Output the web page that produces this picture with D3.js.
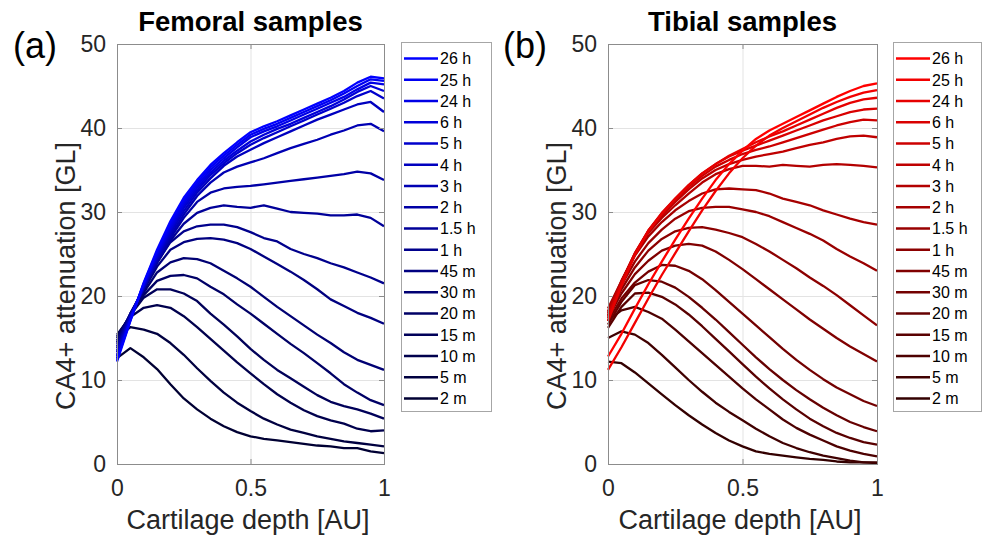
<!DOCTYPE html>
<html>
<head>
<meta charset="utf-8">
<script src="https://cdn.jsdelivr.net/npm/d3@7"></script>
<style>
  body { margin: 0; background: #fff; }
  svg text { font-family: Arial, 'Liberation Sans', sans-serif; }
</style>
</head>
<body>
<svg id="chart" width="983" height="543"></svg>
<script>
// cartilage depth sample points (AU)
const depth = [0, 0.05, 0.1, 0.15, 0.2, 0.25, 0.3, 0.35, 0.4, 0.45, 0.5,
               0.55, 0.6, 0.65, 0.7, 0.75, 0.8, 0.85, 0.9, 0.95, 1];
const timeLabels = ['26 h', '25 h', '24 h', '6 h', '5 h', '4 h', '3 h', '2 h', '1.5 h',
                    '1 h', '45 m', '30 m', '20 m', '15 m', '10 m', '5 m', '2 m'];
const xTicks = [0, 0.5, 1];
const yTicks = [0, 10, 20, 30, 40, 50];

// femoral attenuation [GL], one row per time label
const femoral = [
  [12.2, 17.0, 21.6, 25.5, 28.9, 31.7, 33.8, 35.6, 37.0, 38.3, 39.5, 40.2, 40.8, 41.5, 42.2, 42.9, 43.6, 44.4, 45.4, 46.1, 45.9],
  [12.4, 17.1, 21.5, 25.3, 28.6, 31.4, 33.5, 35.3, 36.7, 38.0, 39.2, 39.9, 40.5, 41.2, 41.9, 42.6, 43.3, 44.1, 45.0, 45.8, 45.6],
  [12.6, 17.2, 21.4, 25.1, 28.3, 31.1, 33.2, 35.0, 36.4, 37.7, 38.9, 39.6, 40.2, 40.9, 41.6, 42.3, 43.0, 43.7, 44.6, 45.4, 45.2],
  [12.8, 17.3, 21.3, 24.9, 28.0, 30.8, 32.9, 34.7, 36.1, 37.3, 38.4, 39.2, 39.9, 40.5, 41.2, 41.9, 42.6, 43.4, 44.3, 45.0, 44.4],
  [13.0, 17.4, 21.2, 24.7, 27.8, 30.5, 32.6, 34.4, 35.8, 37.0, 38.0, 38.8, 39.5, 40.2, 40.9, 41.6, 42.3, 43.0, 43.8, 44.4, 43.5],
  [13.3, 17.5, 21.1, 24.5, 27.5, 30.1, 32.3, 34.0, 35.5, 36.6, 37.4, 38.2, 38.9, 39.6, 40.3, 41.0, 41.6, 42.2, 42.8, 43.1, 41.9],
  [13.5, 17.6, 21.0, 24.3, 27.2, 29.7, 31.9, 33.5, 34.7, 35.4, 35.9, 36.4, 37.0, 37.6, 38.1, 38.6, 39.2, 39.7, 40.3, 40.5, 39.6],
  [13.8, 17.7, 20.9, 24.1, 26.9, 29.3, 31.2, 32.3, 32.8, 33.0, 33.1, 33.3, 33.5, 33.7, 33.9, 34.1, 34.3, 34.5, 34.8, 34.6, 33.8],
  [14.0, 17.8, 20.9, 23.9, 26.6, 28.6, 29.9, 30.5, 30.8, 30.6, 30.5, 30.8, 30.4, 30.0, 29.9, 29.8, 29.6, 29.6, 29.7, 29.3, 28.3],
  [14.3, 17.9, 20.9, 24.0, 26.4, 27.7, 28.3, 28.5, 28.5, 28.2, 27.6, 26.9, 26.5, 25.6, 25.0, 24.5, 23.9, 23.4, 22.8, 22.2, 21.5],
  [14.5, 17.9, 20.7, 23.5, 25.5, 26.4, 26.8, 26.9, 26.7, 26.3, 25.6, 24.7, 23.8, 22.9, 21.9, 20.8, 19.6, 18.8, 18.0, 17.4, 16.7],
  [14.7, 17.9, 20.4, 22.8, 24.0, 24.5, 24.4, 23.9, 23.0, 22.1, 21.1, 19.9, 18.7, 17.6, 16.5, 15.4, 14.4, 13.3, 12.4, 11.8, 11.2],
  [15.0, 17.8, 20.1, 21.8, 22.4, 22.5, 22.1, 21.1, 20.2, 19.0, 17.9, 16.7, 15.5, 14.3, 13.2, 12.0, 10.8, 9.5, 8.5, 7.6, 7.0],
  [15.2, 17.7, 19.8, 20.8, 20.8, 20.3, 19.4, 17.9, 16.6, 15.2, 13.7, 12.4, 11.2, 10.2, 9.2, 8.2, 7.4, 6.9, 6.5, 6.0, 5.4],
  [15.4, 17.5, 18.6, 18.9, 18.6, 17.6, 16.3, 14.9, 13.5, 12.1, 10.8, 9.5, 8.3, 7.3, 6.4, 5.7, 5.2, 4.8, 4.2, 3.9, 4.0],
  [15.0, 16.3, 16.0, 15.5, 14.4, 13.0, 11.4, 9.9, 8.5, 7.3, 6.3, 5.4, 4.7, 4.1, 3.7, 3.3, 3.0, 2.7, 2.5, 2.3, 2.1],
  [12.6, 13.8, 12.7, 11.3, 9.5, 7.8, 6.5, 5.4, 4.5, 3.8, 3.3, 3.0, 2.8, 2.6, 2.4, 2.2, 2.1, 1.9, 1.9, 1.5, 1.3]
];

// tibial attenuation [GL], one row per time label
const tibial = [
  [12.8, 15.5, 18.5, 21.4, 24.1, 26.7, 29.2, 31.6, 33.8, 35.7, 37.3, 38.7, 39.7, 40.5, 41.3, 42.1, 42.9, 43.7, 44.4, 45.0, 45.3],
  [11.2, 13.9, 16.8, 19.7, 22.5, 25.1, 27.7, 30.2, 32.5, 34.6, 36.4, 37.9, 39.1, 40.0, 40.8, 41.6, 42.4, 43.1, 43.7, 44.2, 44.5],
  [17.0, 21.2, 24.9, 27.7, 29.8, 31.6, 33.2, 34.6, 35.7, 36.7, 37.5, 38.3, 39.0, 39.6, 40.3, 41.0, 41.7, 42.4, 43.0, 43.4, 43.6],
  [17.3, 21.4, 25.0, 27.8, 29.9, 31.6, 33.2, 34.6, 35.7, 36.6, 37.3, 37.9, 38.5, 39.1, 39.7, 40.3, 40.9, 41.4, 41.9, 42.2, 42.3],
  [17.6, 21.6, 25.1, 27.8, 29.8, 31.5, 33.0, 34.3, 35.4, 36.2, 36.9, 37.4, 37.8, 38.3, 38.8, 39.3, 39.8, 40.3, 40.7, 41.0, 40.9],
  [17.9, 21.7, 25.1, 27.7, 29.6, 31.2, 32.7, 34.0, 35.0, 35.7, 36.2, 36.6, 36.9, 37.2, 37.6, 38.0, 38.3, 38.7, 39.0, 39.1, 38.9],
  [18.2, 21.8, 25.0, 27.5, 29.3, 30.8, 32.2, 33.5, 34.5, 35.1, 35.5, 35.5, 35.4, 35.6, 35.5, 35.4, 35.6, 35.7, 35.6, 35.5, 35.3],
  [18.5, 21.8, 24.8, 27.1, 28.8, 30.2, 31.3, 32.2, 32.7, 32.8, 32.7, 32.6, 32.2, 31.6, 31.2, 30.8, 30.2, 29.7, 29.2, 28.8, 28.5],
  [18.0, 21.3, 24.1, 26.3, 27.9, 29.2, 30.1, 30.5, 30.6, 30.6, 30.3, 30.0, 29.5, 28.8, 28.1, 27.4, 26.6, 25.6, 24.7, 23.9, 23.0],
  [17.7, 20.8, 23.4, 25.4, 26.8, 27.7, 28.1, 28.2, 27.9, 27.5, 27.0, 26.2, 25.3, 24.3, 23.3, 22.2, 21.2, 20.1, 18.9, 17.7, 16.5],
  [17.4, 20.3, 22.6, 24.2, 25.4, 26.0, 26.2, 26.0, 25.3, 24.3, 23.2, 22.0, 20.8, 19.6, 18.4, 17.2, 16.1, 15.0, 14.0, 13.1, 12.2],
  [17.0, 19.7, 21.6, 22.9, 23.7, 23.6, 23.0, 22.0, 20.7, 19.3, 17.9, 16.5, 15.1, 13.7, 12.4, 11.2, 10.1, 9.1, 8.3, 7.5, 6.9],
  [16.6, 19.3, 21.3, 21.9, 21.7, 21.0, 19.9, 18.6, 17.2, 15.7, 14.2, 12.7, 11.3, 10.0, 8.8, 7.7, 6.7, 5.8, 5.0, 4.4, 3.9],
  [16.2, 18.7, 20.3, 20.4, 19.9, 19.0, 17.8, 16.4, 14.9, 13.4, 11.9, 10.4, 9.0, 7.7, 6.5, 5.4, 4.5, 3.7, 3.1, 2.6, 2.3],
  [17.1, 18.3, 18.7, 18.1, 17.3, 16.0, 14.6, 13.2, 11.8, 10.4, 9.0, 7.7, 6.5, 5.3, 4.3, 3.5, 2.8, 2.1, 1.6, 1.2, 0.9],
  [15.0, 15.8, 15.4, 14.4, 13.0, 11.5, 10.0, 8.6, 7.3, 6.2, 5.2, 4.2, 3.3, 2.5, 1.9, 1.4, 1.0, 0.7, 0.4, 0.2, 0.2],
  [12.2, 12.0, 10.9, 9.6, 8.3, 7.0, 5.8, 4.7, 3.7, 2.8, 2.1, 1.5, 1.2, 1.0, 0.8, 0.6, 0.5, 0.3, 0.2, 0.2, 0.1]
];

const svg = d3.select('#chart');
const plotTop = 44;
const plotBottom = 464;

function drawPanel(p) {
  const xScale = d3.scaleLinear().domain([0, 1]).range([p.left, p.right]);
  const yScale = d3.scaleLinear().domain([0, 50]).range([plotBottom, plotTop]);
  const innerW = p.right - p.left;
  const innerH = plotBottom - plotTop;
  const colorScale = d3.scaleLinear()
    .domain([0, timeLabels.length - 1])
    .range([p.bright, p.dark]);

  const g = svg.append('g');

  // grid
  g.append('g')
    .attr('transform', `translate(0,${plotBottom})`)
    .call(d3.axisBottom(xScale).tickValues(xTicks).tickSize(-innerH).tickFormat(''))
    .call(a => a.select('.domain').remove())
    .selectAll('line').attr('stroke', '#e3e3e3');
  g.append('g')
    .attr('transform', `translate(${p.left},0)`)
    .call(d3.axisLeft(yScale).tickValues(yTicks).tickSize(-innerW).tickFormat(''))
    .call(a => a.select('.domain').remove())
    .selectAll('line').attr('stroke', '#e3e3e3');

  // curves
  const line = d3.line()
    .x((d, i) => xScale(depth[i]))
    .y(d => yScale(d));
  g.selectAll('path.curve')
    .data(p.data.slice().reverse())
    .enter().append('path')
      .attr('class', 'curve')
      .attr('d', line)
      .attr('fill', 'none')
      .attr('stroke', (d, i) => colorScale(timeLabels.length - 1 - i))
      .attr('stroke-width', 2.3)
      .attr('stroke-linejoin', 'round');

  // axes (ticks point inward, as in the original)
  const xAxisG = g.append('g')
    .attr('transform', `translate(0,${plotBottom})`)
    .call(d3.axisBottom(xScale).tickValues(xTicks).tickSize(-5).tickPadding(16)
      .tickFormat(d3.format('')));
  const yAxisG = g.append('g')
    .attr('transform', `translate(${p.left},0)`)
    .call(d3.axisLeft(yScale).tickValues(yTicks).tickSize(-5).tickPadding(11));
  [xAxisG, yAxisG].forEach(a => {
    a.select('.domain').remove();
    a.selectAll('line').attr('stroke', '#8c8c8c');
    a.selectAll('text').attr('font-size', 23).attr('fill', '#262626');
  });
  // mirrored ticks on top and right
  g.append('g')
    .attr('transform', `translate(0,${plotTop})`)
    .call(d3.axisTop(xScale).tickValues(xTicks).tickSize(-5).tickFormat(''))
    .call(a => a.select('.domain').remove())
    .selectAll('line').attr('stroke', '#8c8c8c');
  g.append('g')
    .attr('transform', `translate(${p.right},0)`)
    .call(d3.axisRight(yScale).tickValues(yTicks).tickSize(-5).tickFormat(''))
    .call(a => a.select('.domain').remove())
    .selectAll('line').attr('stroke', '#8c8c8c');

  g.append('rect')
    .attr('x', p.left + 0.5).attr('y', plotTop + 0.5)
    .attr('width', innerW).attr('height', innerH)
    .attr('fill', 'none').attr('stroke', '#8c8c8c');

  // labels
  g.append('text')
    .attr('x', (p.left + p.right) / 2).attr('y', 31)
    .attr('text-anchor', 'middle')
    .attr('font-size', 27.5).attr('font-weight', 'bold').attr('fill', '#000')
    .text(p.title);
  g.append('text')
    .attr('x', p.xLabelX).attr('y', 529)
    .attr('text-anchor', 'middle')
    .attr('font-size', 27).attr('fill', '#262626')
    .text('Cartilage depth [AU]');
  g.append('text')
    .attr('transform', `translate(${p.left - 51},276) rotate(-90)`)
    .attr('text-anchor', 'middle')
    .attr('dy', '0.35em')
    .attr('font-size', 27).attr('fill', '#262626')
    .text('CA4+ attenuation [GL]');
  g.append('text')
    .attr('x', p.tagX).attr('y', 58)
    .attr('font-family', "'DejaVu Sans', sans-serif")
    .attr('font-size', 36).attr('fill', '#000')
    .text(p.tag);

  // legend
  const leg = g.append('g');
  leg.append('rect')
    .attr('x', p.legX + 0.5).attr('y', 42.5)
    .attr('width', p.legW).attr('height', 369)
    .attr('fill', '#fff').attr('stroke', '#a6a6a6');
  const rowY = d3.scalePoint().domain(timeLabels).range([58.5, 398.5]);
  const rows = leg.selectAll('g.row').data(timeLabels)
    .enter().append('g')
      .attr('class', 'row')
      .attr('transform', d => `translate(${p.legX},${rowY(d)})`);
  rows.append('line')
    .attr('x1', 3).attr('x2', 37)
    .attr('stroke', (d, i) => colorScale(i))
    .attr('stroke-width', 2.3);
  rows.append('text')
    .attr('x', 39).attr('dy', '0.36em')
    .attr('font-size', 16).attr('fill', '#000')
    .text(d => d);
}

drawPanel({
  data: femoral, title: 'Femoral samples', tag: '(a)', tagX: 13, xLabelX: 248,
  left: 117, right: 384, legX: 401, legW: 90,
  bright: '#0000ff', dark: '#000033'
});
drawPanel({
  data: tibial, title: 'Tibial samples', tag: '(b)', tagX: 503, xLabelX: 740,
  left: 608, right: 877, legX: 893, legW: 88,
  bright: '#ff0000', dark: '#330000'
});
</script>
</body>
</html>
